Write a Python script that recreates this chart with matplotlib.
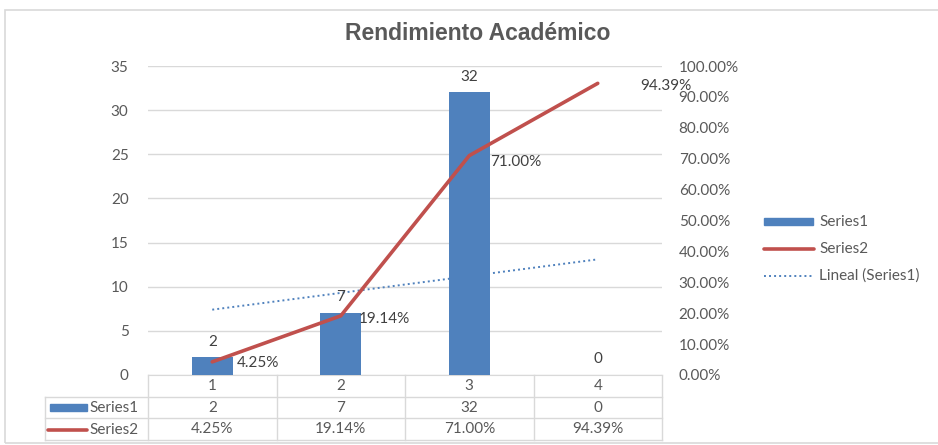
import matplotlib
matplotlib.use("Agg")
import matplotlib.pyplot as plt
import numpy as np
from matplotlib.patches import Rectangle
from matplotlib.lines import Line2D
import matplotlib.transforms as mtransforms

title = "Rendimiento Académico"
categories = ["1", "2", "3", "4"]
series1 = [2, 7, 32, 0]
series2 = [0.0425, 0.1914, 0.7100, 0.9439]
series2_labels = ["4.25%", "19.14%", "71.00%", "94.39%"]
left_ticks = [0, 5, 10, 15, 20, 25, 30, 35]
right_ticks = [0, 0.1, 0.2, 0.3, 0.4, 0.5, 0.6, 0.7, 0.8, 0.9, 1.0]

BLUE = "#4F81BD"
RED = "#C0504D"
GRAY = "#595959"
GRID = "#D9D9D9"
FONT = "Lato"
FS = 11

W, H = 938, 445
fig = plt.figure(figsize=(W / 100, H / 100), dpi=100)

def fx(px):
    return px / W

def fy(py):
    return 1 - py / H

# outer chart border
fig.add_artist(Rectangle((fx(5), fy(443)), fx(940) - fx(5), fy(10) - fy(443),
                         transform=fig.transFigure, fill=False, edgecolor=GRID, lw=1.2))

ax = fig.add_axes([fx(148), fy(375), fx(662) - fx(148), fy(66) - fy(375)])
x = np.arange(1, len(categories) + 1)

ax.bar(x, series1, width=0.32, color=BLUE, zorder=3)
ax.set_xlim(0.5, 4.5)
ax.set_ylim(0, 35)
ax.set_yticks(left_ticks)
ax.yaxis.grid(True, color=GRID, lw=1.0, zorder=0)
ax.tick_params(axis="y", length=0, pad=14, labelsize=FS, labelcolor=GRAY)
ax.set_xticks([])
for lbl in ax.get_yticklabels():
    lbl.set_fontfamily(FONT)
for s in ["top", "right", "left"]:
    ax.spines[s].set_visible(False)
ax.spines["bottom"].set_color(GRID)

# trendline (linear fit of series1)
coef = np.polyfit(x, series1, 1)
xt = np.array([1, 4])
ax.plot(xt, np.polyval(coef, xt), color=BLUE, lw=1.4, ls=(0, (1, 1.6)), zorder=4)

for xi, v in zip(x, series1):
    ax.text(xi, v + 1.0, str(v), ha="center", va="bottom", fontsize=FS,
            color="#404040", fontfamily=FONT, zorder=6)

ax2 = ax.twinx()
ax2.plot(x, series2, color=RED, lw=2.6, zorder=5, solid_capstyle="round")
ax2.set_ylim(0, 1.0)
ax2.set_yticks(right_ticks)
ax2.set_yticklabels([f"{t*100:.2f}%" for t in right_ticks])
ax2.tick_params(axis="y", length=0, pad=12, labelsize=FS, labelcolor=GRAY)
for lbl in ax2.get_yticklabels():
    lbl.set_fontfamily(FONT)
for s in ax2.spines.values():
    s.set_visible(False)

label_offsets = [(0.19, -0.005), (0.14, -0.01), (0.16, -0.02), (0.33, -0.01)]
for xi, v, t, (dx, dy) in zip(x, series2, series2_labels, label_offsets):
    ax2.text(xi + dx, v + dy, t, ha="left", va="center", fontsize=FS,
             color="#404040", fontfamily=FONT, zorder=7)

# data table
trans = mtransforms.blended_transform_factory(ax.transData, ax.transAxes)
ah = 375 - 66
def ay(py):
    return -(py - 375) / ah

row_y = [ay(375), ay(397), ay(418), ay(440)]
label_left = 0.5 + (45 - 148) / ((662 - 148) / 4)
for yy in row_y[1:]:
    ax.add_line(Line2D([label_left, 4.5], [yy, yy], transform=trans, color=GRID,
                       lw=1.0, clip_on=False))
for xb in [0.5, 1.5, 2.5, 3.5, 4.5]:
    ax.add_line(Line2D([xb, xb], [row_y[0], row_y[3]], transform=trans, color=GRID,
                       lw=1.0, clip_on=False))
ax.add_line(Line2D([label_left, label_left], [row_y[1], row_y[3]], transform=trans,
                   color=GRID, lw=1.0, clip_on=False))

mid = lambda a, b: (a + b) / 2
for xi, c in zip(x, categories):
    ax.text(xi, mid(row_y[0], row_y[1]), c, transform=trans, ha="center", va="center",
            fontsize=FS, color=GRAY, fontfamily=FONT, clip_on=False)
for xi, v in zip(x, series1):
    ax.text(xi, mid(row_y[1], row_y[2]), str(v), transform=trans, ha="center", va="center",
            fontsize=FS, color=GRAY, fontfamily=FONT, clip_on=False)
for xi, t in zip(x, series2_labels):
    ax.text(xi, mid(row_y[2], row_y[3]), t, transform=trans, ha="center", va="center",
            fontsize=FS, color=GRAY, fontfamily=FONT, clip_on=False)

# row label keys
fig.add_artist(Rectangle((fx(50), fy(411)), fx(87) - fx(50), fy(404) - fy(411),
                         transform=fig.transFigure, color=BLUE))
fig.text(fx(89), fy(408), "Series1", ha="left", va="center", fontsize=FS,
         color=GRAY, fontfamily=FONT)
fig.add_artist(Line2D([fx(48), fx(87)], [fy(430), fy(430)], transform=fig.transFigure,
                      color=RED, lw=2.6, solid_capstyle="round"))
fig.text(fx(89), fy(430), "Series2", ha="left", va="center", fontsize=FS,
         color=GRAY, fontfamily=FONT)

# legend
fig.add_artist(Rectangle((fx(764), fy(225)), fx(813) - fx(764), fy(218) - fy(225),
                         transform=fig.transFigure, color=BLUE))
fig.text(fx(819), fy(222), "Series1", ha="left", va="center", fontsize=FS,
         color=GRAY, fontfamily=FONT)
fig.add_artist(Line2D([fx(764), fx(814)], [fy(249), fy(249)], transform=fig.transFigure,
                      color=RED, lw=2.6, solid_capstyle="round"))
fig.text(fx(819), fy(249), "Series2", ha="left", va="center", fontsize=FS,
         color=GRAY, fontfamily=FONT)
fig.add_artist(Line2D([fx(764), fx(812)], [fy(276), fy(276)], transform=fig.transFigure,
                      color=BLUE, lw=1.4, ls=(0, (1, 1.6))))
fig.text(fx(819), fy(276), "Lineal (Series1)", ha="left", va="center", fontsize=FS,
         color=GRAY, fontfamily=FONT)

fig.text(fx(478), fy(33), title, ha="center", va="center", fontsize=16.5,
         fontweight="bold", color=GRAY, fontfamily="Liberation Sans")

fig.savefig("out.png", dpi=100)
